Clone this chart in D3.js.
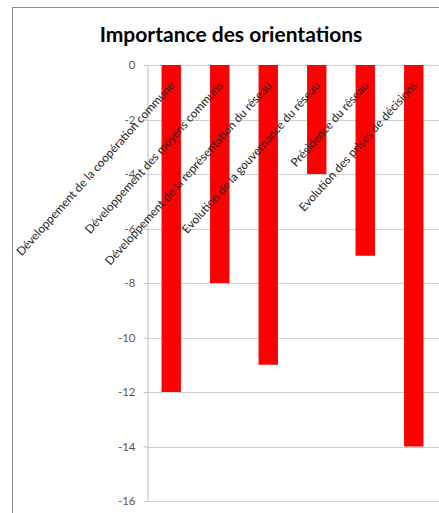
<!DOCTYPE html>
<html>
<head>
<meta charset="utf-8">
<style>
  body { margin: 0; background: #fff; }
  .axis .domain { stroke: #bfbfbf; }
  .axis text { font-family: Lato, sans-serif; font-size: 11.5px; fill: #595959; }
</style>
</head>
<body>
<svg width="439" height="513"></svg>
<script src="https://cdnjs.cloudflare.com/ajax/libs/d3/7.8.5/d3.min.js"></script>
<script>

// data
var categories = [
  "Développement de la coopération commune",
  "Développement des moyens communs",
  "Développement de la représentation du réseau",
  "Evolution de la gouvernance du réseau",
  "Présidence du réseau",
  "Evolution des prises de décisions"
];
var values = [-12, -8, -11, -4, -7, -14];
var yTicks = [0, -2, -4, -6, -8, -10, -12, -14, -16];

var svg = d3.select("svg");

// chart frame (cut off at right and bottom like the picture)
svg.append("rect")
  .attr("x", 12.5).attr("y", 7.5)
  .attr("width", 460).attr("height", 540)
  .attr("fill", "none")
  .attr("stroke", "#8c8c8c");

// title
svg.append("text")
  .attr("x", 231)
  .attr("y", 42)
  .attr("text-anchor", "middle")
  .attr("font-family", "Lato, sans-serif")
  .attr("font-weight", "bold")
  .attr("font-size", 21)
  .attr("fill", "#000")
  .text("Importance des orientations");

var plotLeft = 147, plotRight = 438, plotTop = 65, plotBottom = 501;

var x = d3.scaleBand()
  .domain(categories)
  .range([plotLeft, plotRight])
  .paddingInner(0.6)
  .paddingOuter(0.3);

var y = d3.scaleLinear()
  .domain([-16, 0])
  .range([plotBottom, plotTop]);

// gridlines
svg.append("g")
  .selectAll("line")
  .data(yTicks)
  .enter().append("line")
  .attr("x1", plotLeft)
  .attr("x2", 439)
  .attr("y1", function(d) { return Math.round(y(d)) + 0.5; })
  .attr("y2", function(d) { return Math.round(y(d)) + 0.5; })
  .attr("stroke", "#cfcfcf");

// bars
svg.append("g")
  .selectAll("rect")
  .data(values)
  .enter().append("rect")
  .attr("x", function(d, i) { return x(categories[i]); })
  .attr("y", y(0))
  .attr("width", x.bandwidth())
  .attr("height", function(d) { return y(d) - y(0); })
  .attr("fill", "#ff0000");

// y axis (plain hyphen for negatives, like the original)
svg.append("g")
  .attr("class", "axis")
  .attr("transform", "translate(" + (plotLeft + 0.5) + ",0)")
  .call(d3.axisLeft(y).tickValues(yTicks).tickSize(4).tickPadding(8).tickSizeOuter(0)
    .tickFormat(function(d) { return String(d); }))
  .call(function(g) { g.selectAll(".tick line").attr("stroke", "#bfbfbf"); });

// category labels, rotated, drawn over the bars
svg.append("g")
  .selectAll("text")
  .data(categories)
  .enter().append("text")
  .attr("transform", function(d) {
    return "translate(" + (x(d) + x.bandwidth() / 2 + 4) + "," + 86 + ") rotate(-48)";
  })
  .attr("text-anchor", "end")
  .attr("font-family", "Lato, sans-serif")
  .attr("font-size", 11.8)
  .attr("fill", "#262626")
  .text(function(d) { return d; });

</script>
</body>
</html>
